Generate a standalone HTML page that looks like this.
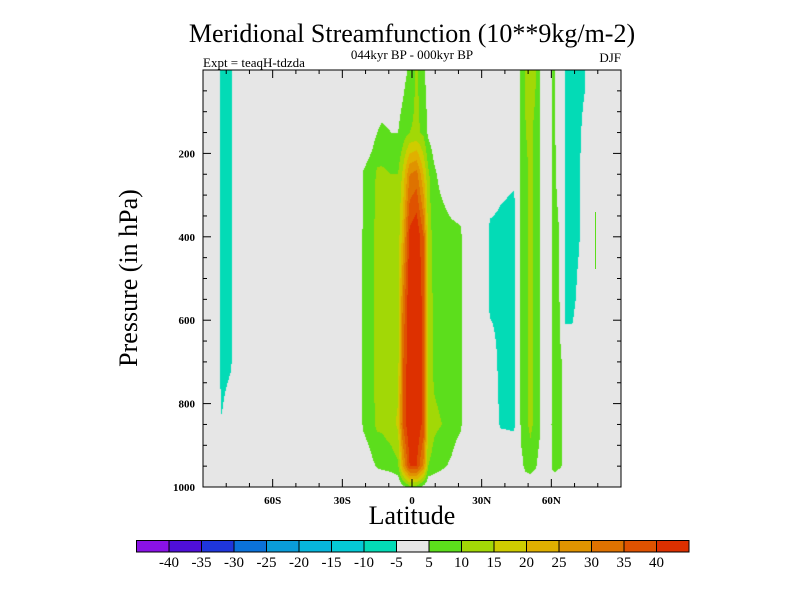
<!DOCTYPE html>
<html><head><meta charset="utf-8"><style>
body{margin:0;background:#fff;width:800px;height:600px;overflow:hidden;font-family:"Liberation Serif",serif}
svg text{font-family:"Liberation Serif",serif}
</style></head><body>
<div style="position:relative;width:800px;height:600px">
<canvas id="cv" width="800" height="600" style="position:absolute;left:0;top:0"></canvas>
<svg id="sv" width="800" height="600" style="position:absolute;left:0;top:0"></svg>
</div>
<script>
// ---- data ----
const levels = [0,150,250,400,550,700,850,950,1000];
const lats = [-90,-84,-82,-78,-76,
  -23,-21,-17,-15,-13,-9,-6,-4,-1,2,5,7,9.5,13,17,21,23.5,
  32,33.5,38,44,45.5,
  46,47,49,51,53,55,56,
  59,60.5,61.5,63,64.5,65,
  66,69,72,74.5,75.5,90];
const columns = [
[0,0,0,0,0,0,0,0,0],
[0,0,0,0,0,0,0,0,0],
[-8,-8,-8,-8,-8,-8,-4.5,0,0],
[-7,-7,-7,-7,-7,-6,0,0,0],
[0,0,0,0,0,0,0,0,0],
// central cell
[0,0,0,0,0,0,0,0,0],
[0,0,5.5,6,6,6,6,0,0],
[0,3,8,9,9,9,9,4,0],
[0,5,11,12,12,12,11,5.5,0],
[0,6,11,12,12,12,11,6,0],
[0,5,10,12,12,12,13,7,0],
[2,5,10,12,12,13,16,9,0],
[3,7,16,22,30,34,35,24,3],
[6,10,30,42,45,45,45,40,8],
[11,11,32,45,45,45,45,40,8],
[6,9,20,35,38,38,38,28,3],
[2,4,11,13,13,13,14,10,0],
[0,2,6,8,9,9,11,8,0],
[0,0,3,8,8,8,10,6,0],
[0,0,0,7,8,8,8,4,0],
[0,0,0,6,6,6,6,0,0],
[0,0,0,0,0,0,0,0,0],
// negative cell 33-45N
[0,0,0,0,0,0,0,0,0],
[0,0,0,-7,-7,0,0,0,0],
[0,0,-3,-7,-7,-7,-5.5,0,0],
[0,0,-4,-8,-8,-8,-6,0,0],
[0,0,0,0,0,0,0,0,0],
// stripe 47-55N
[0,0,0,0,0,0,0,0,0],
[7,7,7,7,7,7,7,3,0],
[11,10,9,9,9,9,9,7,0],
[12,11,11,11,11,11,11,8,0],
[11,9,9,9,9,9,9,6,0],
[6,6,6,6,6,6,6,3,0],
[0,0,0,0,0,0,0,0,0],
// stripe 60-64N
[0,0,0,0,0,0,0,0,0],
[6,6,6,6,6,6,7,6,0],
[6,6,6,7,7,7,9,7,0],
[0,0,3,6,6,6,8,6,0],
[0,0,0,0,3,5,6,5,0],
[0,0,0,0,0,0,0,0,0],
// negative 66-74N
[-7,-7,-7,-7,-7,-2,0,0,0],
[-8,-8,-8,-8,-7,-2,0,0,0],
[-7,-6,-6,-5.5,-3,0,0,0,0],
[-6,-3,0,0,0,0,0,0,0],
[0,0,0,0,0,0,0,0,0],
[0,0,0,0,0,0,0,0,0]
];
const cbLabels = ["-40","-35","-30","-25","-20","-15","-10","-5","5","10","15","20","25","30","35","40"];
const cbThresholds = [-40,-35,-30,-25,-20,-15,-10,-5,5,10,15,20,25,30,35,40];
const cbColors = ["#8a12e6","#4f0fd8","#1f36dc","#0b72da","#0a9cd9","#07b6dc","#05cad6","#03dbb6","#e6e6e6","#5cde1c","#a2d806","#cfcc00","#e0b000","#e09300","#de7200","#df5200","#dd3000"];
const yTicks = [200,400,600,800,1000];
const xTicks = [-60,-30,0,30,60];
const xTickLabels = ["60S","30S","0","30N","60N"];

// ---- axes ----
const X0=203,X1=621,Y0=70,Y1=487;
const xs = lat => X0 + (lat+90)/180*(X1-X0);
const ys = p => Y0 + p/1000*(Y1-Y0);

function valueAt(lat,p){
  let i=0; while(i<lats.length-2 && lats[i+1]<lat) i++;
  let j=0; while(j<levels.length-2 && levels[j+1]<p) j++;
  const tx=Math.min(1,Math.max(0,(lat-lats[i])/(lats[i+1]-lats[i])));
  const ty=Math.min(1,Math.max(0,(p-levels[j])/(levels[j+1]-levels[j])));
  const a=columns[i][j],b=columns[i+1][j],c=columns[i][j+1],d=columns[i+1][j+1];
  return (a*(1-tx)+b*tx)*(1-ty)+(c*(1-tx)+d*tx)*ty;
}
function colorFor(v){
  let k=0; while(k<cbThresholds.length && v>=cbThresholds[k]) k++;
  return cbColors[k];
}
const ctx=document.getElementById('cv').getContext('2d');
for(let px=X0;px<X1;px++){
  const lat=(px+0.5-X0)/(X1-X0)*180-90;
  for(let py=Y0;py<Y1;py++){
    const p=(py+0.5-Y0)/(Y1-Y0)*1000;
    ctx.fillStyle=colorFor(valueAt(lat,p));
    ctx.fillRect(px,py,1,1);
  }
}

const NS='http://www.w3.org/2000/svg';
const sv=document.getElementById('sv');
function mk(tag,attrs,parent){const e=document.createElementNS(NS,tag);for(const k in attrs)e.setAttribute(k,attrs[k]);(parent||sv).appendChild(e);return e;}
function txt(s,attrs){const e=mk('text',attrs);e.textContent=s;return e;}

let e;
e=mk('rect',{x:X0,y:Y0,width:X1-X0,height:Y1-Y0,fill:'none',stroke:'#000','stroke-width':1});


for(let p=50;p<=1000;p+=50){
  const maj=p%200===0, L=maj?8:4, y=ys(p);
  mk('line',{x1:X0,x2:X0+L,y1:y,y2:y,stroke:'#000'});
  mk('line',{x1:X1,x2:X1-L,y1:y,y2:y,stroke:'#000'});
}
yTicks.forEach(v=>{
  e=txt(String(v),{x:X0-8,y:ys(v)+4,'text-anchor':'end','font-size':11,'font-weight':'bold'});
  
  
});
for(let l=-80;l<=80;l+=10){
  const maj=l%30===0, L=maj?8:4, x=xs(l);
  mk('line',{x1:x,x2:x,y1:Y1,y2:Y1-L,stroke:'#000'});
  mk('line',{x1:x,x2:x,y1:Y0,y2:Y0+L,stroke:'#000'});
}
xTicks.forEach((v,i)=>{
  e=txt(xTickLabels[i],{x:xs(v),y:Y1+17,'text-anchor':'middle','font-size':11,'font-weight':'bold'});
  
  
});
e=mk('line',{x1:595.5,x2:595.5,y1:212,y2:269,stroke:'#5cde1c'});



e=txt('Meridional Streamfunction (10**9kg/m-2)',{x:412,y:42,'text-anchor':'middle','font-size':26});


e=txt('044kyr BP - 000kyr BP',{x:412,y:59,'text-anchor':'middle','font-size':13});


e=txt('Expt = teaqH-tdzda',{x:X0,y:67,'font-size':13});


e=txt('DJF',{x:X1,y:62,'text-anchor':'end','font-size':13});


e=txt('Latitude',{x:412,y:524,'text-anchor':'middle','font-size':26});


e=txt('Pressure (in hPa)',{x:0,y:0,'text-anchor':'middle','font-size':26,transform:'translate(137,278) rotate(-90)'});



const CB0=136.5,CB1=689,CBy=540.5,CBh=11.5,w=(CB1-CB0)/cbColors.length;
cbColors.forEach((c,i)=>{
  e=mk('rect',{x:CB0+i*w,y:CBy,width:w,height:CBh,fill:c,stroke:'#000','stroke-width':1});
  
  
});
cbLabels.forEach((s,i)=>{
  e=txt(s,{x:CB0+(i+1)*w,y:CBy+CBh+15,'text-anchor':'middle','font-size':15});
  
  
});
</script>
</body></html>
